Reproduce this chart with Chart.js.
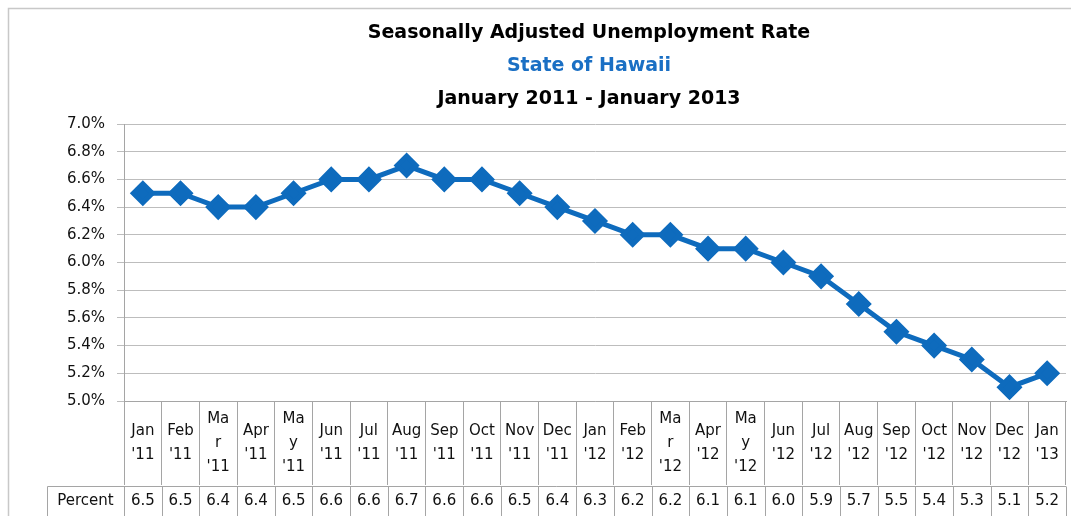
<!DOCTYPE html>
<html>
<head>
<meta charset="utf-8">
<script src="https://cdn.jsdelivr.net/npm/chart.js@4"></script>
<style>
  html, body { margin: 0; padding: 0; background: #fff; overflow: hidden; }
  #wrap { position: relative; width: 1071px; height: 516px; overflow: hidden; }
</style>
</head>
<body>
<div id="wrap"><canvas id="chart" width="1085" height="516"></canvas></div>
<script>
(function () {
  "use strict";

  // --- Data
  var months = [
    ["Jan", "'11"], ["Feb", "'11"], ["Ma", "r", "'11"], ["Apr", "'11"], ["Ma", "y", "'11"],
    ["Jun", "'11"], ["Jul", "'11"], ["Aug", "'11"], ["Sep", "'11"], ["Oct", "'11"],
    ["Nov", "'11"], ["Dec", "'11"], ["Jan", "'12"], ["Feb", "'12"], ["Ma", "r", "'12"],
    ["Apr", "'12"], ["Ma", "y", "'12"], ["Jun", "'12"], ["Jul", "'12"], ["Aug", "'12"],
    ["Sep", "'12"], ["Oct", "'12"], ["Nov", "'12"], ["Dec", "'12"], ["Jan", "'13"]
  ];
  var percent = [
    6.5, 6.5, 6.4, 6.4, 6.5, 6.6, 6.6, 6.7, 6.6, 6.6, 6.5, 6.4, 6.3,
    6.2, 6.2, 6.1, 6.1, 6.0, 5.9, 5.7, 5.5, 5.4, 5.3, 5.1, 5.2
  ];
  var seriesName = "Percent";
  var titleLines = [
    "Seasonally Adjusted Unemployment Rate",
    "State of Hawaii",
    "January 2011 - January 2013"
  ];
  var yMin = 5.0, yMax = 7.0, yStep = 0.2;

  var FONT = "'DejaVu Sans', sans-serif";
  var blue = "#0e6bbd";
  var gridGray = "#bdbdbd";
  var lineGray = "#a5a5a5";

  // --- Frame, titles and the data table row under the axis
  var decor = {
    id: "decor",
    beforeDraw: function (chart) {
      var ctx = chart.ctx;
      ctx.save();
      ctx.strokeStyle = "#c8c8c8";
      ctx.lineWidth = 1.5;
      ctx.beginPath();
      ctx.moveTo(8.5, 516);
      ctx.lineTo(8.5, 8.5);
      ctx.lineTo(1085, 8.5);
      ctx.stroke();
      ctx.restore();
    },
    afterDraw: function (chart) {
      var ctx = chart.ctx;
      var xs = chart.scales.x;
      var area = chart.chartArea;
      ctx.save();

      // titles
      var cx = 589;
      ctx.textAlign = "center";
      ctx.textBaseline = "middle";
      ctx.font = "bold 19px " + FONT;
      ctx.fillStyle = "#000";
      ctx.fillText(titleLines[0], cx, 33);
      ctx.fillStyle = "#1a6fc4";
      ctx.fillText(titleLines[1], cx, 66);
      ctx.fillStyle = "#000";
      ctx.fillText(titleLines[2], cx, 99);

      // table row
      var top = 486.5, bottom = 516;
      var half = (xs.getPixelForValue(1) - xs.getPixelForValue(0)) / 2;
      ctx.strokeStyle = lineGray;
      ctx.lineWidth = 1;
      ctx.beginPath();
      ctx.moveTo(47.5, top);
      ctx.lineTo(area.right, top);
      ctx.moveTo(47.5, top);
      ctx.lineTo(47.5, bottom);
      for (var i = 0; i <= percent.length; i++) {
        var bx = Math.round(xs.getPixelForValue(i) - half) + 0.5;
        ctx.moveTo(bx, top);
        ctx.lineTo(bx, bottom);
      }
      ctx.stroke();

      ctx.fillStyle = "#111";
      ctx.font = "15px " + FONT;
      ctx.fillText(seriesName, (47 + area.left) / 2, 501);
      percent.forEach(function (v, i) {
        ctx.fillText(v.toFixed(1), xs.getPixelForValue(i), 501);
      });
      ctx.restore();
    }
  };

  new Chart(document.getElementById("chart"), {
    type: "line",
    data: {
      labels: months,
      datasets: [
        {
          label: seriesName,
          data: percent,
          borderColor: blue,
          backgroundColor: blue,
          borderWidth: 5,
          pointStyle: "rectRot",
          pointRadius: 9.5,
          pointBackgroundColor: blue,
          pointBorderColor: blue,
          tension: 0,
        },
      ],
    },
    options: {
      responsive: false,
      animation: false,
      layout: { padding: { top: 124, left: 0, right: 19, bottom: 31 } },
      plugins: {
        legend: { display: false },
        title: { display: false },
        tooltip: { enabled: false },
      },
      scales: {
        x: {
          type: "category",
          offset: true,
          afterFit: function (s) { s.height = 84; },
          grid: {
            offset: true,
            drawOnChartArea: false,
            tickLength: 84,
            color: lineGray,
          },
          border: { color: lineGray },
          ticks: {
            autoSkip: false,
            maxRotation: 0,
            minRotation: 0,
            crossAlign: "center",
            padding: -66,
            color: "#111",
            font: { family: FONT, size: 15, lineHeight: 1.6 },
          },
        },
        y: {
          min: yMin,
          max: yMax,
          afterFit: function (s) { s.width = 124; },
          grid: { color: gridGray, tickLength: 7 },
          border: { color: lineGray },
          ticks: {
            stepSize: yStep,
            padding: 12,
            color: "#111",
            font: { family: FONT, size: 15 },
            callback: function (v) { return v.toFixed(1) + "%"; },
          },
        },
      },
    },
    plugins: [decor],
  });
})();
</script>
</body>
</html>
